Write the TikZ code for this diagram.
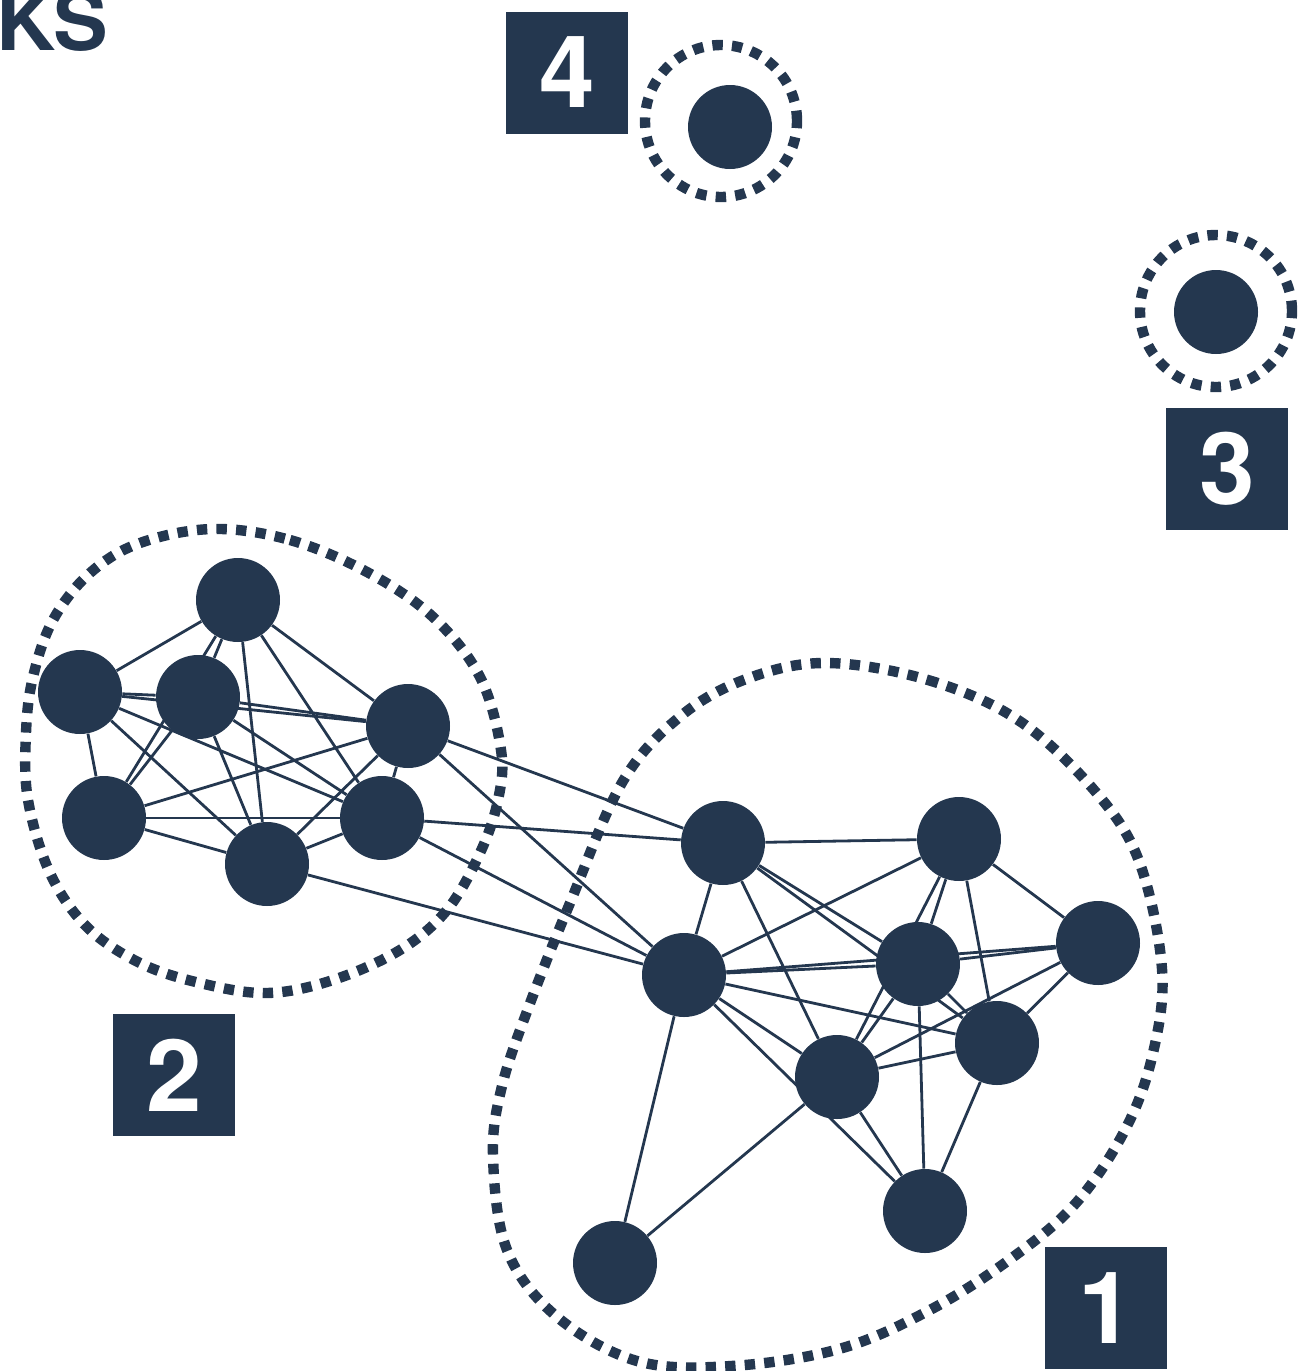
\documentclass[tikz,border=0pt]{standalone}
\usepackage{fontspec}
\setmainfont{TeX Gyre Heros}
\definecolor{navy}{HTML}{24374F}
\pgfdeclarelayer{bg}
\pgfsetlayers{bg,main}
\tikzset{
  vtx/.style={circle, fill=navy, minimum size=42pt, inner sep=0pt},
  edge/.style={draw=navy, line width=1.4pt},
  halo/.style={draw=navy, line width=5.2pt, dash pattern=on 5.2pt off 4.6pt},
  ring/.style={circle, halo, minimum size=76pt, inner sep=0pt},
  lbl/.style={fill=navy, text=white, minimum size=61pt, inner sep=0pt,
    font=\fontsize{50}{50}\selectfont\bfseries},
}
\begin{document}
\begin{tikzpicture}[x=0.5pt,y=-0.5pt]
\useasboundingbox (0,0) rectangle (1305,1371);
% title fragment
\node[anchor=base west, inner sep=0pt, text=navy, font=\fontsize{41}{41}\selectfont\bfseries] (title) at (-4,50) {KS};
% cluster 2 vertices
\node[vtx] (A) at (238,600) {};
\node[vtx] (B) at (80,692) {};
\node[vtx] (C) at (198,697) {};
\node[vtx] (D) at (408,726) {};
\node[vtx] (E) at (104,818) {};
\node[vtx] (F) at (382,818) {};
\node[vtx] (G) at (267,864) {};
% cluster 1 vertices
\node[vtx] (H) at (723,843) {};
\node[vtx] (I) at (959,839) {};
\node[vtx] (J) at (684,975) {};
\node[vtx] (K) at (918,964) {};
\node[vtx] (L) at (1098,943) {};
\node[vtx] (M) at (997,1043) {};
\node[vtx] (N) at (837,1077) {};
\node[vtx] (O) at (925,1211) {};
\node[vtx] (P) at (615,1263) {};
% singletons
\node[vtx] (Q) at (730,127) {};
\node[vtx] (R) at (1216,312) {};
\node[ring] (Qr) at (721,121) {};
\node[ring] (Rr) at (1216,311) {};
% labels
\node[lbl] (l4) at (567,72.5) {4};
\node[lbl] (l3) at (1227,469) {3};
\node[lbl] (l2) at (174,1075) {2};
\node[lbl] (l1) at (1106,1308) {1};
\begin{pgfonlayer}{bg}
% cluster outlines
\draw[halo] plot[smooth cycle, tension=0.6] coordinates {
 (213,529) (290,540) (367,572) (433,617) (480,677) (501,750) (498,800)
 (480,853) (447,910) (400,950) (333,980) (267,993) (200,983) (140,963)
 (87,927) (50,873) (28,800) (26,733) (33,677) (53,620) (90,573) (140,543)};
\draw[halo] plot[smooth cycle, tension=0.6] coordinates {
 (827,663) (928,680) (1018,720) (1094,790) (1139,861) (1162,969) (1153,1053)
 (1126,1128) (1076,1203) (1009,1260) (928,1311) (839,1349) (731,1366)
 (637,1361) (556,1316) (507,1250) (493,1156) (502,1086) (529,1006)
 (570,903) (623,781) (682,715) (749,678)};
% cluster 2 edges
\foreach \a/\b in {A/B,A/C,A/E,A/G,A/F,A/D,B/C,B/D,B/E,B/G,B/F,C/D,C/E,C/G,C/F,
  D/E,D/G,D/F,E/F,E/G,F/G,D/H,D/J,F/H,F/J,G/J}
  \draw[edge] (\a) -- (\b);
% cluster 1 edges
\foreach \a/\b in {H/I,H/J,H/N,H/K,H/M,I/J,I/K,I/N,I/M,I/L,J/K,J/L,J/M,J/N,J/O,J/P,
  N/P,N/M,N/L,K/N,K/L,K/O,K/M,M/O,M/L,N/O}
  \draw[edge] (\a) -- (\b);
\end{pgfonlayer}
\end{tikzpicture}
\end{document}
